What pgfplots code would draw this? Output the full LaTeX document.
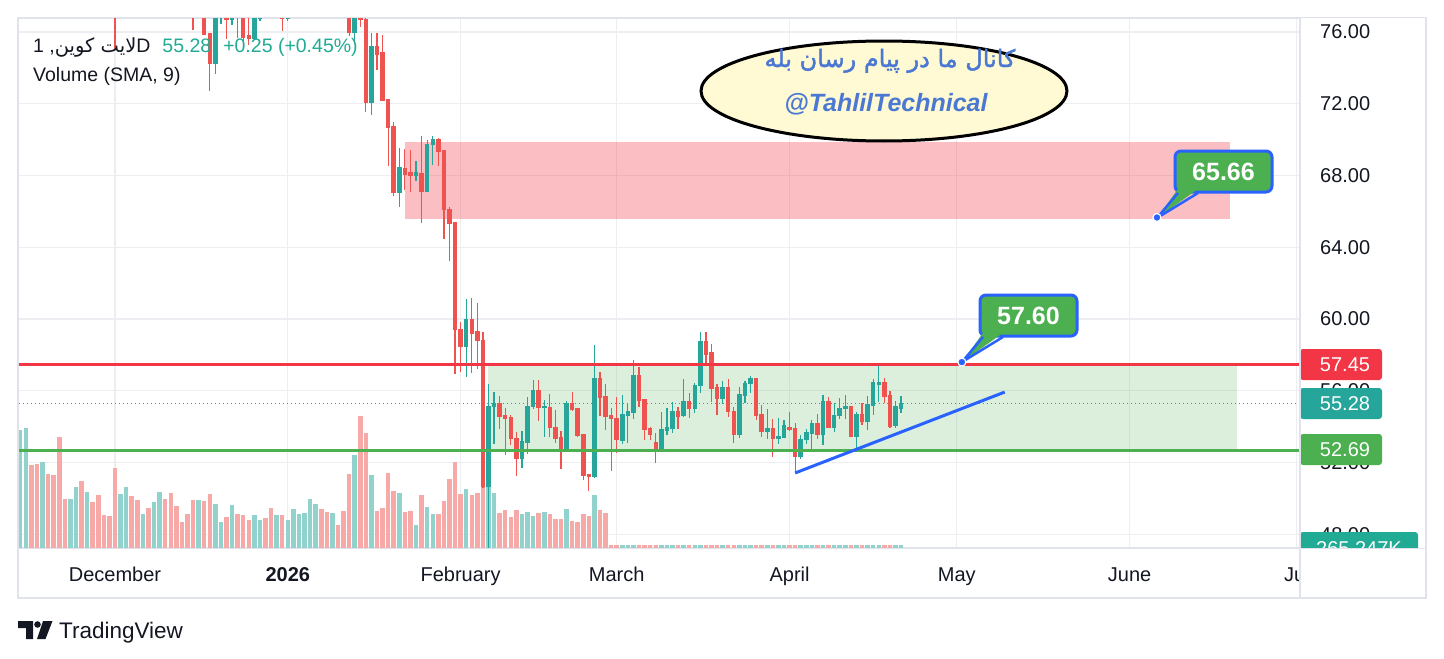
\documentclass[border=0pt]{standalone}
\usepackage{fontspec}
\setmainfont{Liberation Sans}
\newfontfamily\arabicfont[Script=Arabic]{DejaVu Sans}
\newfontfamily\arabicbold[Script=Arabic,FakeBold=1.8]{DejaVu Sans}
\TeXXeTstate=1
\usepackage{pgfplots}
\usepackage{pgfplotstable}
\pgfplotsset{compat=1.18}
\definecolor{tvup}{HTML}{26A69A}
\definecolor{tvdown}{HTML}{EF5350}
\definecolor{volup}{HTML}{92D2CC}
\definecolor{voldown}{HTML}{F7A9A7}
\definecolor{tvred}{HTML}{F23645}
\definecolor{tvgreen}{HTML}{4CAF50}
\definecolor{tvblue}{HTML}{2962FF}
\definecolor{tvtext}{HTML}{131722}
\definecolor{tvgrid}{HTML}{EDEEF2}
\definecolor{tvframe}{HTML}{E0E3EB}
\definecolor{tvteal}{HTML}{22AB94}
\definecolor{ellfill}{HTML}{FFFAD4}
\definecolor{elltext}{HTML}{4A78D2}

% daily candles (day 0 = 1 December)
\pgfplotstableread{
d o h l c
0 78.50 79.00 74.99 77.50
14 78.00 78.50 76.13 77.20
16 77.50 78.00 75.83 75.89
17 75.89 75.95 72.73 74.22
18 74.22 77.50 73.67 77.20
19 76.80 78.00 76.45 77.50
20 76.90 77.20 75.63 76.70
21 76.70 77.20 76.37 76.85
22 77.50 78.00 75.67 77.00
23 77.30 77.60 75.33 75.70
24 75.78 77.00 75.29 75.63
25 75.63 77.30 75.60 77.00
26 76.75 77.00 76.60 76.80
30 76.90 77.30 76.06 76.75
31 76.75 77.20 76.60 76.90
42 77.20 77.60 75.76 75.95
43 75.95 77.40 75.39 77.00
44 76.90 77.20 76.26 76.70
45 76.72 77.00 71.54 72.07
46 72.07 75.93 71.37 75.21
47 75.21 75.93 73.90 74.76
48 74.84 75.81 72.13 72.20
49 72.26 72.26 68.54 70.66
50 70.72 70.97 66.85 67.04
51 67.04 69.53 66.22 68.43
52 68.40 69.47 67.21 68.07
53 68.15 69.43 67.08 68.00
54 68.00 68.81 67.70 68.15
55 68.11 70.23 65.38 67.13
56 67.13 70.00 67.08 69.75
57 69.71 70.18 68.58 69.98
58 69.98 70.09 68.54 69.33
59 69.37 69.37 64.47 66.10
60 66.13 66.27 63.25 65.32
61 65.36 65.42 56.95 59.41
62 59.44 59.86 57.03 58.46
63 58.46 61.14 56.75 59.99
64 59.99 61.18 56.99 59.22
65 59.33 60.89 57.24 58.79
66 58.82 59.26 50.59 50.68
67 50.68 56.39 47.00 55.11
68 55.11 55.96 53.04 55.30
69 55.30 55.73 53.88 54.55
70 54.60 55.05 52.43 54.45
71 54.49 54.64 53.00 53.32
72 53.36 53.70 51.25 52.24
73 52.24 53.76 51.72 53.17
74 53.11 55.68 52.47 55.15
75 55.11 56.60 55.01 56.03
76 56.03 56.60 54.32 55.05
77 55.06 55.49 53.42 55.10
78 55.09 55.82 53.41 53.94
79 53.98 54.93 53.11 53.33
80 53.37 53.78 51.66 52.66
81 52.66 55.43 52.64 55.28
82 55.28 55.93 54.89 54.95
83 54.99 54.99 53.43 53.50
84 53.54 53.54 51.03 51.27
85 51.31 51.31 50.43 51.21
86 51.21 58.55 51.14 56.71
87 56.71 57.05 54.61 55.62
88 55.66 56.38 53.82 54.56
89 54.60 55.04 51.55 54.45
90 54.48 55.64 52.55 53.26
91 53.26 55.77 53.04 54.65
92 54.61 55.34 53.11 54.82
93 54.78 57.72 54.41 56.83
94 56.83 57.31 55.11 55.45
95 55.54 55.54 53.26 53.82
96 53.87 53.98 53.26 53.59
97 53.11 53.63 51.99 52.61
98 52.61 54.82 52.59 53.82
99 53.78 55.04 53.52 53.93
100 53.89 55.38 53.63 54.87
101 54.87 55.11 53.89 54.56
102 54.60 56.68 54.56 55.38
103 55.38 55.89 54.47 55.00
104 55.00 56.45 54.78 56.32
105 56.29 59.28 55.86 58.72
106 58.72 59.28 57.38 58.05
107 58.11 58.61 55.39 56.12
108 56.16 56.38 54.65 55.56
109 55.56 56.56 55.25 56.20
110 56.20 56.68 54.56 54.84
111 54.87 55.11 53.11 53.54
112 53.54 56.23 53.35 55.77
113 55.73 56.56 55.34 56.42
114 56.40 56.83 55.86 56.71
115 56.71 56.71 54.37 54.61
116 54.65 55.21 53.41 53.72
117 53.72 54.99 53.33 53.91
118 53.91 54.43 52.33 53.33
119 53.33 54.48 53.04 53.44
120 53.39 54.37 53.37 54.04
121 53.98 54.82 53.78 53.82
122 53.87 54.19 51.47 52.33
123 52.33 53.54 52.21 53.31
124 53.28 53.85 53.04 53.65
125 53.61 54.37 52.70 54.15
126 54.19 54.71 53.30 53.55
127 53.55 55.77 53.00 55.43
128 55.43 55.67 53.93 53.98
129 53.94 55.30 53.72 54.60
130 54.60 55.60 54.41 55.04
131 55.00 55.77 54.45 55.10
132 55.10 55.10 53.41 53.48
133 53.48 54.82 52.70 54.65
134 54.65 55.30 54.09 54.28
135 54.28 55.71 53.82 55.21
136 55.17 56.68 54.67 56.44
137 56.38 57.42 55.39 56.44
138 56.44 56.71 55.34 55.67
139 55.71 55.97 53.93 54.04
140 54.04 55.45 53.93 55.10
141 55.00 55.71 54.78 55.28
}\candles

% volume (relative bar height), u = 1 up day, 0 down day
\pgfplotstableread{
d v u
-17 118.2 1
-16 119.9 1
-15 83.1 0
-14 84.1 0
-13 85.8 1
-12 73.9 0
-11 72.9 0
-10 110.8 0
-9 48.9 0
-8 48.9 1
-7 60.8 1
-6 66.8 0
-5 56.0 1
-4 45.9 0
-3 53.0 0
-2 33.0 0
-1 32.0 0
0 80.0 0
1 54.0 1
2 60.8 1
3 52.0 0
4 47.9 0
5 34.0 1
6 39.8 0
7 45.9 1
8 56.0 1
9 48.9 0
10 55.0 0
11 41.8 0
12 25.9 0
13 34.0 0
14 47.9 0
15 47.9 1
16 46.9 0
17 54.0 0
18 43.9 1
19 25.9 1
20 31.0 0
21 42.8 1
22 34.0 0
23 33.0 0
24 28.0 0
25 33.0 1
26 28.0 1
27 30.0 0
28 39.8 0
29 33.0 1
30 33.0 0
31 28.0 1
32 38.8 1
33 34.0 1
34 35.1 1
35 48.9 1
36 43.9 1
37 38.8 0
38 36.1 0
39 35.1 1
40 22.9 0
41 36.8 0
42 73.9 0
43 92.9 1
44 132.1 0
45 114.9 0
46 72.9 1
47 36.8 0
48 39.8 0
49 75.0 0
50 57.0 0
51 55.0 1
52 36.1 0
53 36.8 0
54 22.9 1
55 53.0 0
56 40.8 1
57 34.0 1
58 34.0 0
59 46.9 0
60 68.9 0
61 85.8 0
62 54.0 0
63 59.1 1
64 53.0 0
65 55.0 0
66 72.0 0
67 62.0 1
68 55.0 1
69 35.1 0
70 37.8 0
71 31.0 0
72 37.8 0
73 34.0 1
74 36.1 1
75 32.0 1
76 35.1 0
77 36.0 1
78 34.0 0
79 29.0 0
80 29.0 0
81 39.0 1
82 27.0 0
83 26.0 0
84 34.0 0
85 32.0 0
86 53.0 1
87 38.0 0
88 35.0 0
89 2.6 0
90 2.6 0
91 2.6 1
92 2.6 1
93 2.6 1
94 2.6 0
95 2.6 0
96 2.6 0
97 2.6 0
98 2.6 1
99 2.6 1
100 2.6 1
101 2.6 0
102 2.6 1
103 2.6 0
104 2.6 1
105 2.6 1
106 2.6 0
107 2.6 0
108 2.6 0
109 2.6 1
110 2.6 0
111 2.6 0
112 2.6 1
113 2.6 1
114 2.6 1
115 2.6 0
116 2.6 0
117 2.6 1
118 2.6 0
119 2.6 1
120 2.6 1
121 2.6 0
122 2.6 0
123 2.6 1
124 2.6 1
125 2.6 1
126 2.6 0
127 2.6 1
128 2.6 0
129 2.6 1
130 2.6 1
131 2.6 1
132 2.6 0
133 2.6 1
134 2.6 0
135 2.6 1
136 2.6 1
137 2.6 1
138 2.6 0
139 2.6 0
140 2.6 1
141 2.6 1
}\volumes

\pgfplotsset{
  tvaxis/.style={
    at={(18bp,-548bp)}, anchor=south west, scale only axis,
    width=1282bp, height=530bp,
    xmin=-17.40, xmax=212.56, ymin=47.237, ymax=76.78,
  },
  barplot/.style={draw=none, mark=none,
    error bars/y dir=both, error bars/y explicit, error bars/error mark=none,
    error bars/error bar style={draw=#1}},
}

\begin{document}
\begin{tikzpicture}
\fill[white] (0,0) rectangle (1444bp,-659bp);
\begin{axis}[
  tvaxis,
  axis line style={draw=tvframe, line width=1.2bp},
  grid=major, major grid style={draw=tvgrid, line width=1.2bp},
  xtick={0,31,62,90,121,151,182,212},
  xticklabels={December,{\bfseries 2026},February,March,April,May,June,Jul},
  ytick={48,52,56,60,64,68,72,76},
  yticklabels={48.00,52.00,56.00,60.00,64.00,68.00,72.00,76.00},
  yticklabel pos=right,
  tick style={draw=none}, major tick length=0pt,
  tick label style={font=\fontsize{20bp}{24bp}\selectfont, text=tvtext},
  xticklabel style={anchor=base, yshift=-33bp},
  yticklabel style={anchor=west, inner sep=0pt, xshift=20bp},
]
% zones
\addplot[fill=tvred, fill opacity=0.32, draw=none, forget plot] coordinates {(52.0,65.58) (200.0,65.58) (200.0,69.87) (52.0,69.87)};
\addplot[fill=tvgreen, fill opacity=0.2, draw=none, forget plot] coordinates {(66.9,52.69) (201.3,52.69) (201.3,57.45) (66.9,57.45)};
% volume
\addplot[barplot=volup, error bars/error bar style={line width=4.5bp},
  restrict expr to domain={\thisrow{u}}{0.5:1.5}]
  table[x=d, y expr={47.237+\thisrow{v}/35.88}, y error expr={\thisrow{v}/35.88}] {\volumes};
\addplot[barplot=voldown, error bars/error bar style={line width=4.5bp},
  restrict expr to domain={\thisrow{u}}{-0.5:0.5}]
  table[x=d, y expr={47.237+\thisrow{v}/35.88}, y error expr={\thisrow{v}/35.88}] {\volumes};
% last price dotted line
\addplot[draw=tvup, line width=1bp, dash pattern=on 1.5bp off 2.5bp] coordinates {(-18,55.28) (213,55.28)};
% wicks
\addplot[barplot=tvup, error bars/error bar style={line width=1.2bp},
  restrict expr to domain={\thisrow{c}-\thisrow{o}}{0:100}]
  table[x=d, y expr={(\thisrow{h}+\thisrow{l})/2}, y error expr={(\thisrow{h}-\thisrow{l})/2}] {\candles};
\addplot[barplot=tvdown, error bars/error bar style={line width=1.2bp},
  restrict expr to domain={\thisrow{c}-\thisrow{o}}{-100:0}]
  table[x=d, y expr={(\thisrow{h}+\thisrow{l})/2}, y error expr={(\thisrow{h}-\thisrow{l})/2}] {\candles};
% bodies
\addplot[barplot=tvup, error bars/error bar style={line width=4.5bp},
  restrict expr to domain={\thisrow{c}-\thisrow{o}}{0:100}]
  table[x=d, y expr={(\thisrow{o}+\thisrow{c})/2}, y error expr={abs(\thisrow{c}-\thisrow{o})/2+0.03}] {\candles};
\addplot[barplot=tvdown, error bars/error bar style={line width=4.5bp},
  restrict expr to domain={\thisrow{c}-\thisrow{o}}{-100:0}]
  table[x=d, y expr={(\thisrow{o}+\thisrow{c})/2}, y error expr={abs(\thisrow{c}-\thisrow{o})/2+0.03}] {\candles};
% levels and trend line
\addplot[draw=tvred, line width=3bp] coordinates {(-18,57.45) (213,57.45)};
\addplot[draw=tvgreen, line width=3bp] coordinates {(-18,52.69) (213,52.69)};
\addplot[draw=tvblue, line width=3bp] coordinates {(122.0,51.42) (159.6,55.93)};
\end{axis}

\begin{scope}[x=1bp,y=-1bp]
% cover of the cut month label
\fill[white] (1300.8,549) rectangle (1425,597);
% price labels
\fill[tvred, rounded corners=3bp] (1300,349) rectangle (1382,380);
\node[text=white, font=\fontsize{20bp}{24bp}\selectfont] at (1345,364.5) {57.45};
\fill[tvup, rounded corners=3bp] (1300,388) rectangle (1382,419);
\node[text=white, font=\fontsize{20bp}{24bp}\selectfont] at (1345,403.5) {55.28};
\fill[tvgreen, rounded corners=3bp] (1300,434) rectangle (1382,465);
\node[text=white, font=\fontsize{20bp}{24bp}\selectfont] at (1345,449.5) {52.69};
\begin{scope}
\clip (1290,520) rectangle (1430,548);
\fill[tvteal, rounded corners=3bp] (1300,532) rectangle (1418,566);
\node[text=white, font=\fontsize{20bp}{24bp}\selectfont] at (1359,549) {265.247K};
\end{scope}
% legend
\node[anchor=base west, inner sep=0pt, font=\fontsize{19.5bp}{23bp}\selectfont, text=tvtext] at (33,52)
  {1 ,{\arabicfont\beginR لایت کوین\endR}D\hspace{12bp}\textcolor{tvteal}{55.28\hspace{12bp}+0.25 (+0.45\%)}};
\node[anchor=base west, inner sep=0pt, font=\fontsize{19.5bp}{23bp}\selectfont, text=tvtext] at (33,81) {Volume (SMA, 9)};
% ellipse note
\draw[line width=3bp, fill=ellfill] (884,91) ellipse [x radius=183, y radius=50];
\node[anchor=base, inner sep=0pt, text=elltext, font=\arabicbold\fontsize{24bp}{28bp}\selectfont] at (890,67) {\beginR کانال ما در پیام رسان بله\endR};
\node[anchor=base, inner sep=0pt, text=elltext, font=\fontsize{25bp}{30bp}\selectfont\bfseries\itshape] at (886,111) {@TahlilTechnical};
% callouts
\draw[line width=3bp, draw=tvblue, fill=tvgreen, rounded corners=6bp] (1175,151) rectangle (1272,192);
\fill[tvgreen] (1157,218) -- (1178,189) -- (1198,189) -- cycle;
\draw[tvblue, line width=2.5bp, line join=round] (1178,193) -- (1157,218) -- (1198,193);
\node[text=white, font=\fontsize{25bp}{30bp}\selectfont\bfseries] at (1223.5,171.5) {65.66};
\draw[line width=3bp, draw=tvblue, fill=tvgreen, rounded corners=6bp] (980,295) rectangle (1077,336);
\fill[tvgreen] (962,362) -- (983,333) -- (1003,333) -- cycle;
\draw[tvblue, line width=2.5bp, line join=round] (983,337) -- (962,362) -- (1003,337);
\node[text=white, font=\fontsize{25bp}{30bp}\selectfont\bfseries] at (1028.5,315.5) {57.60};
\end{scope}

\begin{axis}[tvaxis, hide axis, clip=false]
\addplot[only marks, mark=*, mark size=4bp, mark options={fill=tvblue, draw=white, line width=1.2bp}] coordinates {(186.9,65.66) (151.9,57.60)};
\end{axis}

\begin{scope}[x=1bp,y=-1bp]
% frame
\draw[tvframe, line width=1.5bp] (18,17.5) rectangle (1426,598);
\draw[tvframe, line width=1.5bp] (1300,17.5) -- (1300,598);
\draw[tvframe, line width=1.2bp] (18,548.6) -- (1426,548.6);
% logo
\fill[tvtext] (18,621) -- (33,621) -- (33,639) -- (26,639) -- (26,628) -- (18,628) -- cycle;
\fill[tvtext] (37.5,624.5) circle (3.3);
\fill[tvtext] (43,621) -- (52.5,621) -- (45.5,639) -- (37,639) -- cycle;
\node[anchor=base west, inner sep=0pt, font=\fontsize{22.5bp}{26bp}\selectfont, text=tvtext] at (59,638) {TradingView};
\end{scope}
\end{tikzpicture}
\end{document}
